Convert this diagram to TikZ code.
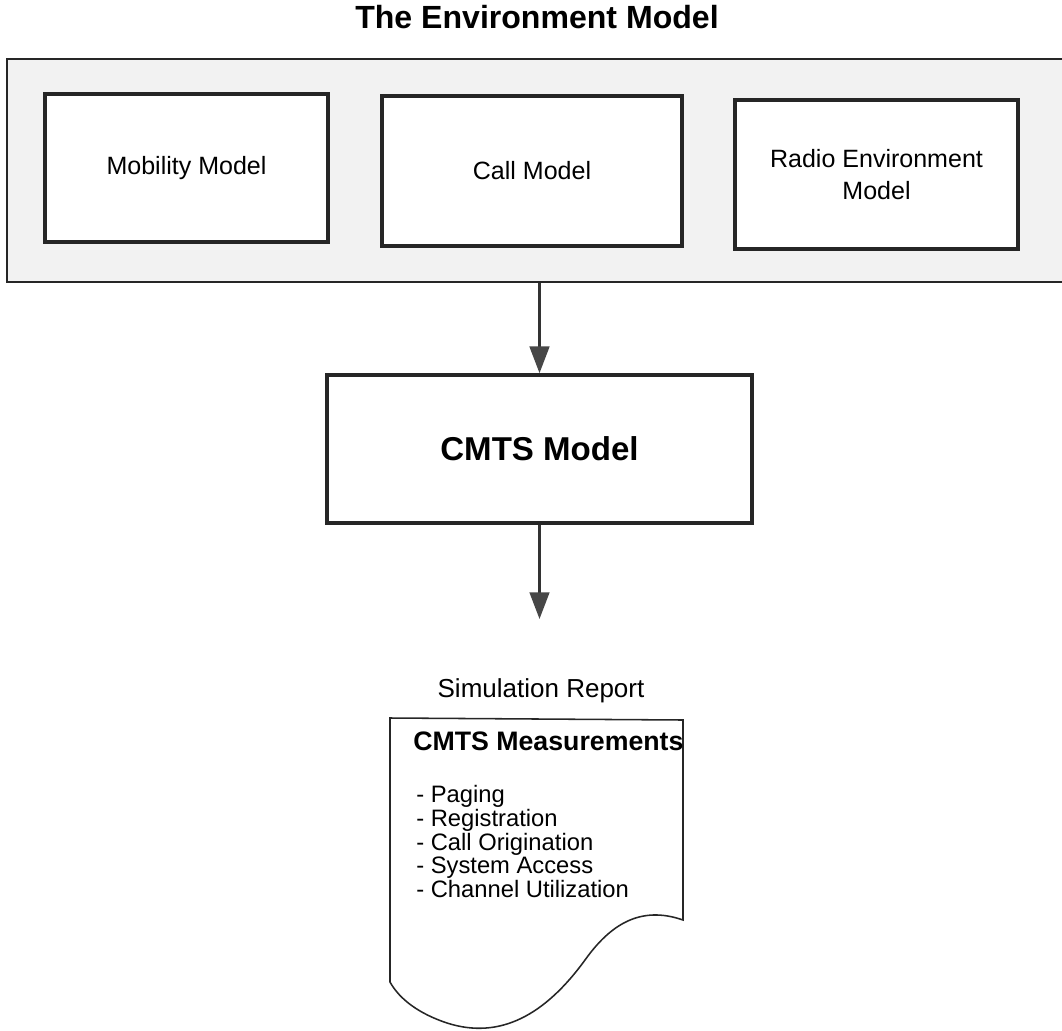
\documentclass[tikz,border=0pt]{standalone}
\usepackage{fontspec}
\setmainfont{Liberation Sans}
\usetikzlibrary{arrows.meta}
\newdimen\pxu
\pxu=0.025cm
\begin{document}
\begin{tikzpicture}[x=0.025cm,y=-0.025cm,
  envframe/.style={draw=black!85, line width=1.6pt, fill=black!5, inner sep=0pt},
  modelbox/.style={draw=black!85, line width=2.6pt, fill=white, inner sep=0pt,
    align=center, font=\fontsize{17.8pt}{22.5pt}\selectfont},
  cmtsbox/.style={draw=black!85, line width=2.6pt, fill=white, inner sep=0pt,
    font=\bfseries\fontsize{23.5pt}{28pt}\selectfont},
  flow/.style={draw=black!80, line width=1.8pt,
    -{Triangle[width=14pt,length=19pt,fill=black!72,color=black!72]}},
  heading/.style={anchor=base, inner sep=0pt, font=\bfseries\fontsize{22.8pt}{27pt}\selectfont},
  caption/.style={anchor=base, inner sep=0pt, font=\fontsize{18.5pt}{22pt}\selectfont},
  sheet/.style={draw=black!85, line width=1.1pt, fill=white},
  sheettext/.style={anchor=base west, inner sep=0pt, font=\fontsize{16.9pt}{20pt}\selectfont}
]
\useasboundingbox (0,0) rectangle (1062,1030);

% title
\node[heading] (title) at (537,29) {The Environment Model};

% environment frame with its three sub-models
\node[envframe, minimum width=1063\pxu, minimum height=223\pxu] (env) at (538.5,170.5) {};
\node[modelbox, minimum width=283\pxu, minimum height=148\pxu] (mob) at (186.5,168) {Mobility Model};
\node[modelbox, minimum width=300\pxu, minimum height=150\pxu] (call) at (532,171) {Call Model};
\node[modelbox, minimum width=283\pxu, minimum height=149\pxu] (radio) at (876.5,174.5) {Radio Environment\\Model};

% simulator core
\node[cmtsbox, minimum width=425\pxu, minimum height=148\pxu] (cmts) at (539.5,449) {CMTS Model};

% output
\coordinate (rep) at (539.5,619);
\draw[flow] (cmts.north |- env.south) -- (cmts.north);
\draw[flow] (cmts.south) -- (rep);

\node[caption] (simrep) at (541,697) {Simulation Report};

% report sheet with a curled lower edge
\draw[sheet] (390,718) -- (683,720) -- (683,920)
  .. controls (640,905) and (610,925) .. (585,960)
  .. controls (545,1015) and (500,1040) .. (447,1023)
  .. controls (420,1014) and (400,1000) .. (390,982) -- cycle;

\node[sheettext, font=\bfseries\fontsize{19pt}{22pt}\selectfont] (meas) at (413,750) {CMTS Measurements};
\node[sheettext] (m1) at (416,802) {- Paging};
\node[sheettext] (m2) at (416,826) {- Registration};
\node[sheettext] (m3) at (416,850) {- Call Origination};
\node[sheettext] (m4) at (416,873) {- System Access};
\node[sheettext] (m5) at (416,897) {- Channel Utilization};
\end{tikzpicture}
\end{document}
